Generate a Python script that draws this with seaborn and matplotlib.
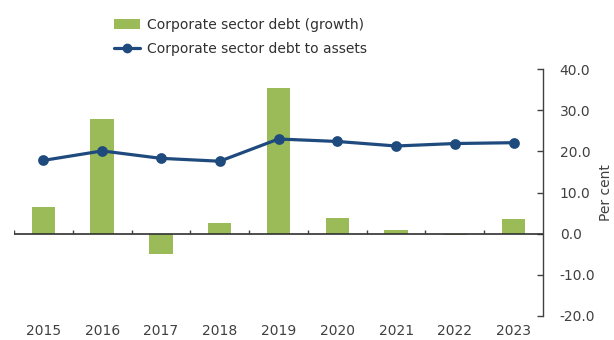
import matplotlib
matplotlib.use("Agg")
import matplotlib.pyplot as plt
from matplotlib.patches import Patch
from matplotlib.lines import Line2D
import seaborn as sns
import pandas as pd

years = ["2015", "2016", "2017", "2018", "2019", "2020", "2021", "2022", "2023"]
debt_growth = [6.6, 27.9, -5.0, 2.5, 35.5, 3.7, 0.8, -0.3, 3.5]
debt_to_assets = [17.8, 20.1, 18.3, 17.6, 23.0, 22.4, 21.3, 21.9, 22.1]
y_ticks = [-20, -10, 0, 10, 20, 30, 40]

bar_label = "Corporate sector debt (growth)"
line_label = "Corporate sector debt to assets"
bar_color = "#9BBB59"
line_color = "#1F4A7D"
axis_color = "#404040"

sns.set_theme(style="white")
plt.rcParams["font.family"] = ["DejaVu Sans"]

df = pd.DataFrame({"year": years, "growth": debt_growth, "ratio": debt_to_assets})

fig = plt.figure(figsize=(6.14, 3.4), dpi=100)
ax = fig.add_axes([0.0228, 0.0706, 0.8616, 0.7264])

sns.barplot(data=df, x="year", y="growth", color=bar_color, width=0.4,
            saturation=1, linewidth=0, ax=ax, zorder=2)
sns.pointplot(data=df, x="year", y="ratio", color=line_color, marker="o",
              markersize=6, linewidth=2.3, ax=ax, zorder=4)

ax.set_xlim(-0.5, len(years) - 0.5)
ax.set_ylim(-20, 40)
ax.set_yticks(y_ticks)
ax.yaxis.set_major_formatter(matplotlib.ticker.FormatStrFormatter("%.1f"))

# value axis on the right
ax.yaxis.tick_right()
ax.yaxis.set_label_position("right")
ax.tick_params(axis="y", direction="in", length=4, width=1, color=axis_color,
               pad=12, labelsize=10, labelcolor=axis_color, right=True, left=False)
ax.set_ylabel("Per cent", fontsize=10, color=axis_color, labelpad=3)

for side in ["left", "top", "bottom"]:
    ax.spines[side].set_visible(False)
ax.spines["right"].set_color(axis_color)
ax.spines["right"].set_linewidth(1)

# year labels at the bottom, no tick lines
ax.set_xlabel("")
ax.set_xticks(range(len(years)))
ax.set_xticklabels(years)
ax.tick_params(axis="x", length=0, pad=6, labelsize=10, labelcolor=axis_color)

# zero line with small separators between the years
ax.axhline(0, color="#303030", lw=1.2, zorder=3)
ax.vlines([i - 0.5 for i in range(len(years))], 0, 1.0,
          color=axis_color, lw=1, zorder=3)

handles = [
    Patch(facecolor=bar_color, edgecolor="none"),
    Line2D([0], [0], color=line_color, lw=2.3, marker="o", markersize=6),
]
fig.legend(handles, [bar_label, line_label], loc="upper left",
           bbox_to_anchor=(0.165, 0.985), frameon=False, fontsize=10,
           handlelength=1.9, handletextpad=0.5, labelspacing=0.75,
           labelcolor="#303030")

fig.savefig("out.png", dpi=100)
